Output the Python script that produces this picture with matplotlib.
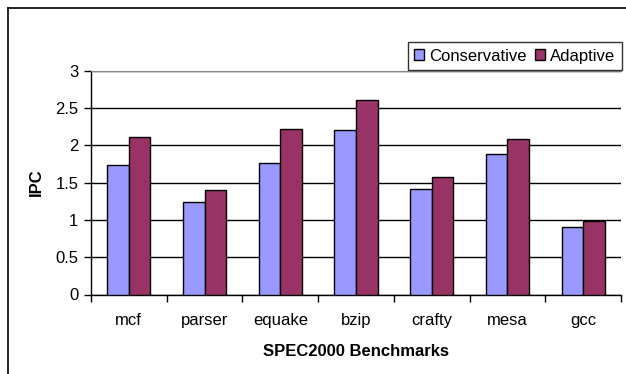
import numpy as np
import matplotlib
matplotlib.use('Agg')
import matplotlib.pyplot as plt
from matplotlib.lines import Line2D

plt.rcParams['font.family'] = ['Liberation Sans', 'DejaVu Sans']

# IPC per SPEC2000 benchmark
benchmarks = ['mcf', 'parser', 'equake', 'bzip', 'crafty', 'mesa', 'gcc']
conservative = [1.74, 1.24, 1.76, 2.20, 1.42, 1.88, 0.91]
adaptive = [2.11, 1.40, 2.22, 2.61, 1.57, 2.08, 0.99]

fig = plt.figure(figsize=(6.26, 3.74), dpi=100)
ax = fig.add_axes([91 / 626, 79.5 / 374, 530 / 626, 223.8 / 374])

x = np.arange(len(benchmarks))
w = 1 / 3.5
ax.bar(x - w / 2, conservative, w, color='#9999FF', edgecolor='black', linewidth=1.0,
       label='Conservative', zorder=3)
ax.bar(x + w / 2, adaptive, w, color='#993366', edgecolor='black', linewidth=1.0,
       label='Adaptive', zorder=3)

ax.set_xlim(-0.5, len(benchmarks) - 0.5)
ax.set_ylim(0, 3)
ax.set_yticks(np.arange(0, 3.01, 0.5))
ax.set_yticklabels(['0', '0.5', '1', '1.5', '2', '2.5', '3'])
ax.yaxis.grid(True, color='black', linewidth=1.0, zorder=0)

# category boundaries get the tick marks, names sit in between
ax.set_xticks(np.arange(-0.5, len(benchmarks)), labels=[])
ax.set_xticks(x, labels=benchmarks, minor=True)
ax.tick_params(axis='x', which='major', direction='out', length=5, width=1)
ax.tick_params(axis='x', which='minor', length=0, pad=13, labelsize=12)
ax.tick_params(axis='y', direction='out', length=5, width=1, labelsize=12, pad=4)

ax.spines['left'].set_linewidth(1)
ax.spines['bottom'].set_linewidth(1)
ax.spines['top'].set_color('#888888')
ax.spines['right'].set_visible(False)

ax.set_xlabel('SPEC2000 Benchmarks', fontsize=12, fontweight='bold', labelpad=12)
ax.set_ylabel('IPC', fontsize=12, fontweight='bold', labelpad=8)

leg = fig.legend(loc='upper right', bbox_to_anchor=(622 / 626, 1 - 42 / 374), ncol=2,
                 fontsize=12, frameon=True, fancybox=False, edgecolor='black',
                 handlelength=0.6, handleheight=0.6, handletextpad=0.3,
                 columnspacing=0.5, borderpad=0.4, borderaxespad=0)
leg.get_frame().set_linewidth(1.0)

# chart area border (left and top edges only)
fig.add_artist(Line2D([8 / 626, 8 / 626], [0, 1 - 7.5 / 374], color='black', linewidth=1.2,
                      transform=fig.transFigure))
fig.add_artist(Line2D([8 / 626, 1], [1 - 7.5 / 374, 1 - 7.5 / 374], color='black',
                      linewidth=1.2, transform=fig.transFigure))

fig.savefig('out.png', dpi=100)
